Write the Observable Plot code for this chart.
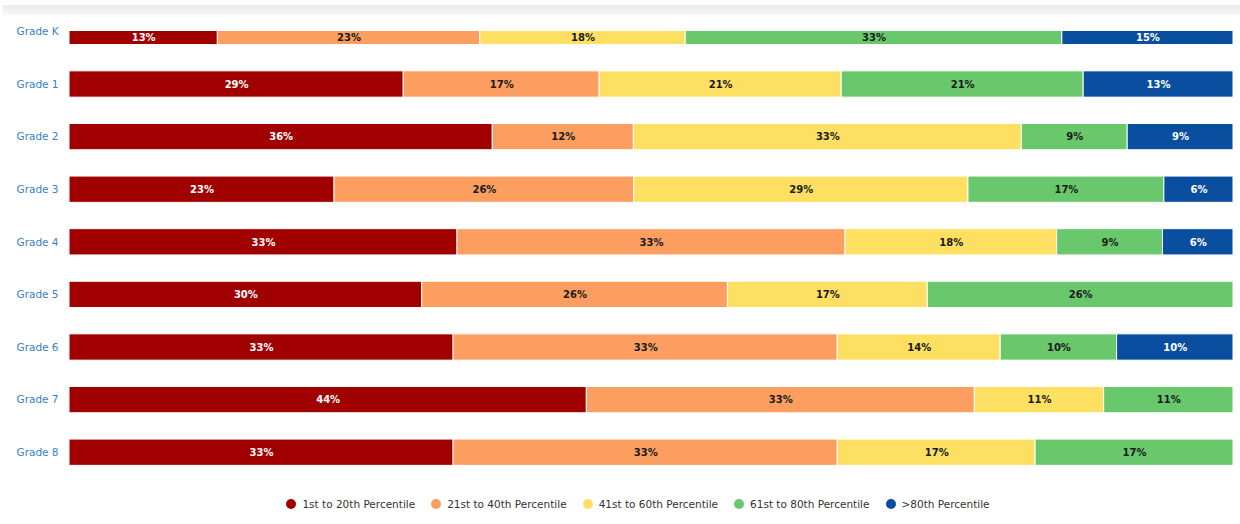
<!DOCTYPE html>
<html>
<head>
<meta charset="utf-8">
<script src="https://cdn.jsdelivr.net/npm/d3@7"></script>
<script src="https://cdn.jsdelivr.net/npm/@observablehq/plot@0.6"></script>
<style>
  html, body { margin: 0; padding: 0; background: #fff; }
  #wrap { position: relative; width: 1240px; height: 524px; overflow: hidden; }
  #topband { position: absolute; left: 3px; right: 0; top: 5px; height: 10px;
             background: linear-gradient(#ebebeb, #f6f6f6); }
  #chart { position: absolute; left: 0; top: 0; }
  #legend { position: absolute; left: 0; width: 1276px; top: 498px; display: flex; justify-content: center;
            font-family: "DejaVu Sans", sans-serif; font-size: 10.5px; color: #333; }
  .item { display: flex; align-items: center; margin: 0 8px; }
  .dot { width: 10px; height: 10px; border-radius: 50%; margin-right: 6px; }
</style>
</head>
<body>
<div id="wrap">
  <div id="chart"></div>
  <div id="topband"></div>
  <div id="legend"></div>
</div>
<script>
const grades = ["Grade K","Grade 1","Grade 2","Grade 3","Grade 4","Grade 5","Grade 6","Grade 7","Grade 8"];
const categories = ["1st to 20th Percentile","21st to 40th Percentile","41st to 60th Percentile","61st to 80th Percentile",">80th Percentile"];
const colors = ["#a10000","#fb9e60","#fde061","#69c86b","#0a4f9f"];
const p1to20  = [13,29,36,23,33,30,33,44,33];
const p21to40 = [23,17,12,26,33,26,33,33,33];
const p41to60 = [18,21,33,29,18,17,14,11,17];
const p61to80 = [33,21, 9,17, 9,26,10,11,17];
const p80plus = [15,13, 9, 6, 6, 0,10, 0, 0];
const series = [p1to20, p21to40, p41to60, p61to80, p80plus];
const darkCats = [categories[0], categories[4]];

const data = [];
grades.forEach((g, i) => series.forEach((vals, j) => {
  if (vals[i] > 0) data.push({grade: g, cat: categories[j], value: vals[i]});
}));

const stackOpts = {x: "value", y: "grade", z: "cat", offset: "normalize", order: categories};

function labels(isDark, isK) {
  return Plot.text(data, Plot.stackX({
    ...stackOpts,
    text: d => (darkCats.includes(d.cat) === isDark && (d.grade === "Grade K") === isK) ? d.value + "%" : "",
    fill: isDark ? "white" : "#1a1a1a",
    fontWeight: "bold",
    fontSize: 10,
    dy: isK ? 6 : 0
  }));
}

const chart = Plot.plot({
  width: 1240,
  height: 480,
  marginLeft: 69,
  marginRight: 7,
  marginTop: 31,
  marginBottom: 5,
  style: {fontFamily: "DejaVu Sans, sans-serif", fontSize: "10px", background: "transparent"},
  x: {axis: null, domain: [0, 1]},
  y: {domain: grades, range: [-8.05, 491.65], padding: 0.5, round: false, axis: null},
  color: {domain: categories, range: colors},
  marks: [
    Plot.barX(data, Plot.stackX({...stackOpts, fill: "cat", stroke: "white", strokeWidth: 1, clip: true})),
    labels(true, false),
    labels(false, false),
    labels(true, true),
    labels(false, true),
    Plot.text(grades, {y: d => d, text: d => d, frameAnchor: "left", textAnchor: "start", dx: -53, fill: "#3a7fc5", fontSize: 10.5})
  ]
});
document.getElementById("chart").appendChild(chart);

const legend = document.getElementById("legend");
categories.forEach((c, i) => {
  const item = document.createElement("div");
  item.className = "item";
  const dot = document.createElement("span");
  dot.className = "dot";
  dot.style.background = colors[i];
  const t = document.createElement("span");
  t.textContent = c;
  item.appendChild(dot);
  item.appendChild(t);
  legend.appendChild(item);
});
</script>
</body>
</html>
